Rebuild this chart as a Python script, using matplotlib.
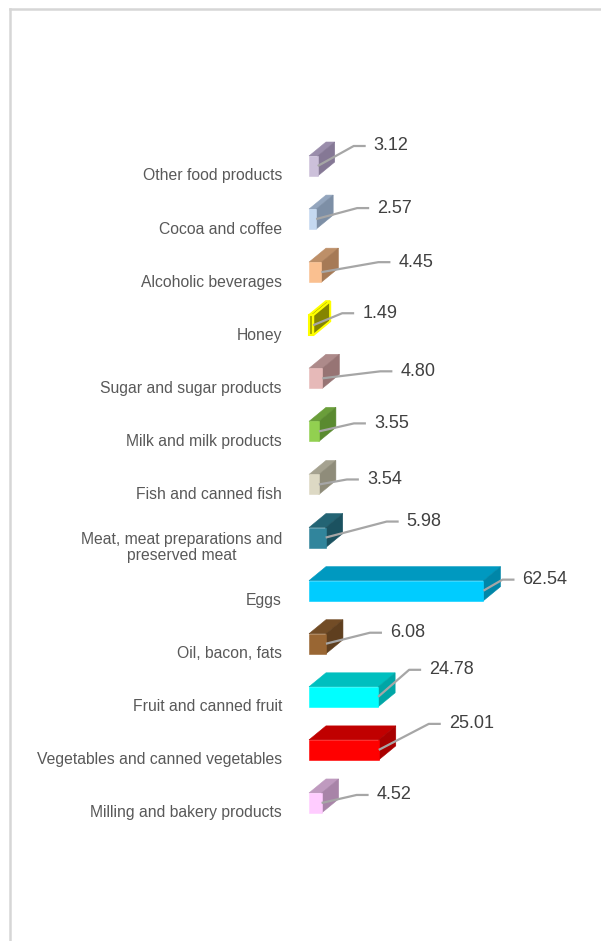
import matplotlib
matplotlib.use('Agg')
import matplotlib.pyplot as plt
from matplotlib.patches import Polygon
from matplotlib.lines import Line2D

categories = ["Other food products", "Cocoa and coffee", "Alcoholic beverages", "Honey",
              "Sugar and sugar products", "Milk and milk products", "Fish and canned fish",
              "Meat, meat preparations and\npreserved meat", "Eggs", "Oil, bacon, fats",
              "Fruit and canned fruit", "Vegetables and canned vegetables",
              "Milling and bakery products"]
values = [3.12, 2.57, 4.45, 1.49, 4.80, 3.55, 3.54, 5.98, 62.54, 6.08, 24.78, 25.01, 4.52]
value_labels = ["3.12", "2.57", "4.45", "1.49", "4.80", "3.55", "3.54", "5.98", "62.54",
                "6.08", "24.78", "25.01", "4.52"]

front_colors = ["#ccc0da", "#c5d9f1", "#fac090", "#a8a800", "#e6b9b8", "#92d050", "#ddd9c4",
                "#31859c", "#00ccff", "#996633", "#00ffff", "#ff0000", "#ffccff"]
top_colors = ["#9a8dab", "#93a5bd", "#bd8f68", "#959500", "#ad8a8a", "#6a9e3a", "#a5a290",
              "#236474", "#0099c0", "#724c26", "#00bfbf", "#c00000", "#bf9abf"]
side_colors = ["#857895", "#7d8fa6", "#a67a56", "#858500", "#977474", "#5a8a30", "#8f8c7a",
               "#1b5260", "#0086a8", "#5f3f1f", "#00a6a6", "#a80000", "#a884a8"]
edge_colors = [None, None, None, "#ffff00", None, None, None, None, None, None, None, None, None]

# label placement offsets (pixels) from bar front-right edge centre
label_dx = [56, 61, 77, 49, 78, 55, 48, 81, 39, 64, 51, 70, 55]
label_dy = [-20, -11, -10, -12, -7, -8, -5, -16, -11, -11, -27, -26, -8]

W, H, DPI = 601, 941, 100
fig = plt.figure(figsize=(W / DPI, H / DPI), dpi=DPI)
ax = fig.add_axes([0, 0, 1, 1])
kx, ky = 2.79, 53.08
x0px, y0px = 309, 166
ax.set_xlim(-x0px / kx, (W - x0px) / kx)
ax.set_ylim((H - y0px) / ky, -y0px / ky)
ax.axis('off')

h = 10 / ky
dxd = 17 / kx
dyd = 14 / ky

for i, (cat, v) in enumerate(zip(categories, values)):
    yc = i
    ec = edge_colors[i]
    lw = 1.5 if ec else 0.4
    front = [(0, yc - h), (v, yc - h), (v, yc + h), (0, yc + h)]
    top = [(0, yc - h), (v, yc - h), (v + dxd, yc - h - dyd), (dxd, yc - h - dyd)]
    side = [(v, yc - h), (v + dxd, yc - h - dyd), (v + dxd, yc + h - dyd), (v, yc + h)]
    ax.add_patch(Polygon(top, closed=True, facecolor=top_colors[i],
                         edgecolor=ec or top_colors[i], lw=lw, zorder=2))
    ax.add_patch(Polygon(side, closed=True, facecolor=side_colors[i],
                         edgecolor=ec or side_colors[i], lw=lw, zorder=2))
    ax.add_patch(Polygon(front, closed=True, facecolor=front_colors[i],
                         edgecolor=ec or front_colors[i], lw=lw, zorder=3))

    # leader line + value label
    tx = v + label_dx[i] / kx
    ty = yc + label_dy[i] / ky
    ax.plot([v, tx - 20 / kx, tx - 8 / kx], [yc, ty, ty], color='#a6a6a6', lw=1.6,
            zorder=4, solid_capstyle='butt')
    ax.text(tx, ty, value_labels[i], ha='left', va='center', fontsize=13,
            family='Liberation Sans', color='#404040', zorder=5)

    # category label
    ax.text(-27 / kx, yc + 10 / ky, cat, ha='right', va='center', multialignment='center',
            fontsize=11.3, family='Liberation Sans', color='#595959', linespacing=1.1)

# chart frame
fig.add_artist(Line2D([9.5 / W, 9.5 / W], [0, 1 - 8.5 / H], transform=fig.transFigure,
                      color='#d6d6d6', lw=1.8))
fig.add_artist(Line2D([9.5 / W, 1], [1 - 8.5 / H, 1 - 8.5 / H], transform=fig.transFigure,
                      color='#d6d6d6', lw=1.8))

fig.savefig('out.png', dpi=DPI, facecolor='white')
